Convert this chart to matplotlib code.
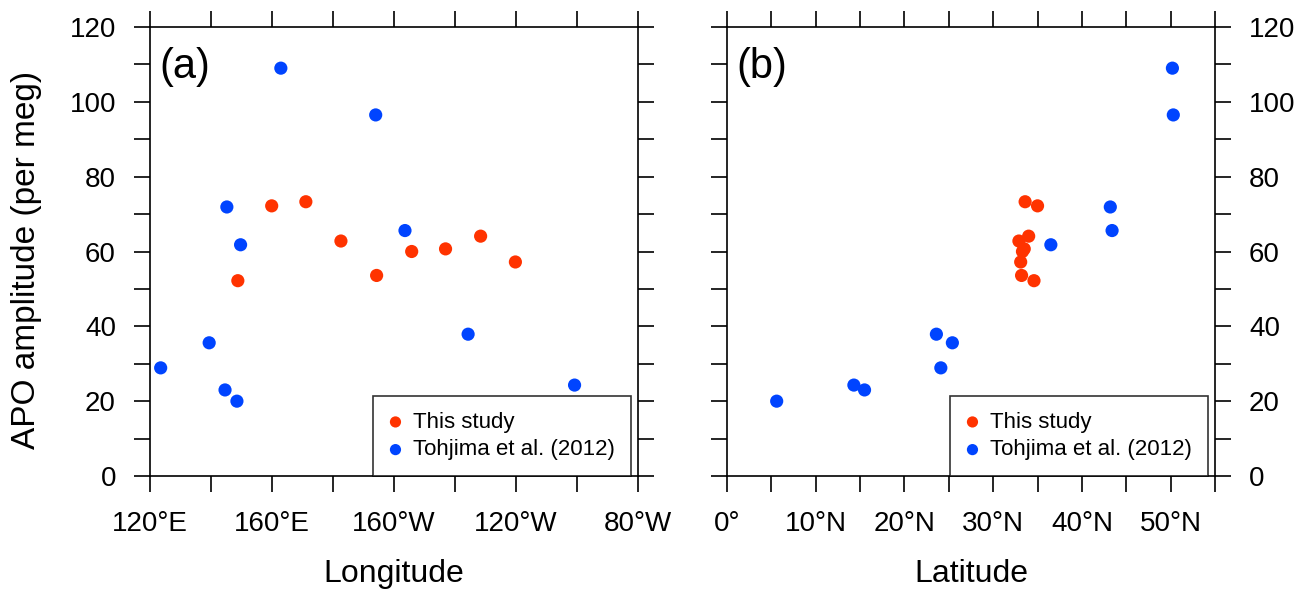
import matplotlib
matplotlib.use("Agg")
import matplotlib.pyplot as plt
from matplotlib.ticker import MultipleLocator, FixedLocator, FixedFormatter

plt.rcParams['font.family'] = ['Liberation Sans', 'DejaVu Sans']

# This study
this_lon = [159.9, 171.1, 182.6, 148.8, 194.3, 205.8, 216.9, 228.4, 239.8]
this_lat = [35.0, 33.6, 32.9, 34.6, 33.2, 33.3, 33.5, 34.0, 33.1]
this_apo = [72.2, 73.3, 62.8, 52.2, 53.6, 60.0, 60.7, 64.1, 57.2]

# Tohjima et al. (2012)
toh_lon = [162.9, 194.0, 145.2, 149.7, 203.6, 123.5, 139.4, 144.6, 148.5, 224.3, 259.2]
toh_lat = [50.2, 50.3, 43.2, 36.5, 43.4, 24.1, 25.4, 15.5, 5.6, 23.6, 14.3]
toh_apo = [109.0, 96.5, 71.9, 61.8, 65.6, 28.9, 35.6, 23.0, 20.0, 37.9, 24.3]

lon_ticks = [120, 160, 200, 240, 280]
lon_labels = ['120°E', '160°E', '160°W', '120°W', '80°W']
lat_ticks = [0, 10, 20, 30, 40, 50]
lat_labels = ['0°', '10°N', '20°N', '30°N', '40°N', '50°N']

RED = '#ff3300'
BLUE = '#0044ff'

fig = plt.figure(figsize=(13.11, 5.97), dpi=100)
axa = fig.add_axes([150/1311, 121/597, 488/1311, 449/597])
axb = fig.add_axes([727/1311, 121/597, 488/1311, 449/597])

def style(ax):
    for s in ax.spines.values():
        s.set_linewidth(1.2)
    ax.tick_params(which='both', direction='out', length=11.5, width=1.2,
                   top=True, bottom=True, left=True, right=True,
                   labelsize=20)
    ax.tick_params(axis='x', pad=14)
    ax.tick_params(axis='y', pad=13)
    ax.set_ylim(0, 120)
    ax.yaxis.set_major_locator(MultipleLocator(20))
    ax.yaxis.set_minor_locator(MultipleLocator(10))

for ax, xs_t, xs_o, lab in [(axa, this_lon, toh_lon, '(a)'), (axb, this_lat, toh_lat, '(b)')]:
    ax.scatter(xs_t, this_apo, s=90, color=RED, edgecolors='none', label='This study', zorder=3)
    ax.scatter(xs_o, toh_apo, s=90, color=BLUE, edgecolors='none', label='Tohjima et al. (2012)', zorder=3)
    style(ax)
    ax.text(0.02, 0.955, lab, transform=ax.transAxes, fontsize=30, va='top', ha='left')
    leg = ax.legend(loc='lower right', bbox_to_anchor=(0.985, 0.0), borderaxespad=0,
                    fontsize=16, frameon=True, fancybox=False, edgecolor='black',
                    markerscale=0.85, handletextpad=0.5, labelspacing=0.3,
                    borderpad=0.7, handlelength=0.6)
    leg.get_frame().set_linewidth(1.2)

axa.set_xlim(120, 280)
axa.xaxis.set_major_locator(FixedLocator(lon_ticks))
axa.xaxis.set_major_formatter(FixedFormatter(lon_labels))
axa.xaxis.set_minor_locator(MultipleLocator(20))
axa.set_xlabel('Longitude', fontsize=23)
axa.xaxis.set_label_coords(0.5, -0.185)
axa.set_ylabel('APO amplitude (per meg)', fontsize=24)
axa.yaxis.set_label_coords(-0.221, 0.481)

axb.set_xlim(0, 55)
axb.xaxis.set_major_locator(FixedLocator(lat_ticks))
axb.xaxis.set_major_formatter(FixedFormatter(lat_labels))
axb.xaxis.set_minor_locator(MultipleLocator(5))
axb.set_xlabel('Latitude', fontsize=23)
axb.xaxis.set_label_coords(0.5, -0.185)
axb.tick_params(axis='y', labelleft=False, labelright=True)

fig.savefig('out.png', dpi=100)
